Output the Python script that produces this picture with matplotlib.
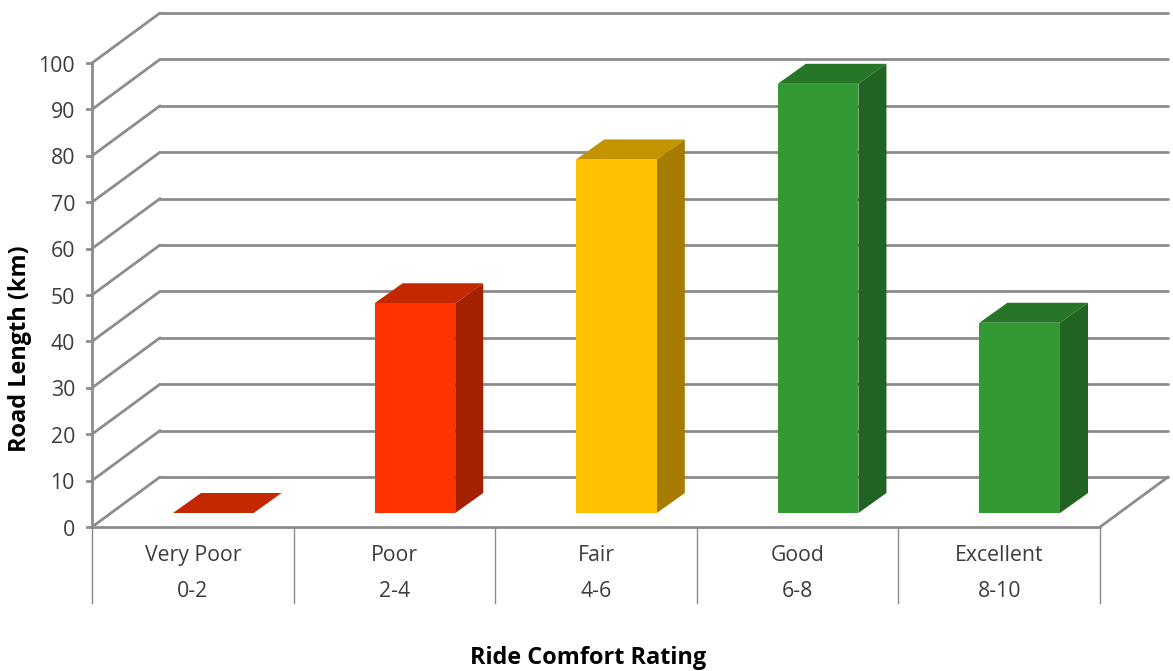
import matplotlib
matplotlib.use("Agg")
import matplotlib.pyplot as plt
from matplotlib.patches import Polygon
from matplotlib.transforms import Affine2D, IdentityTransform

categories = ["Very Poor", "Poor", "Fair", "Good", "Excellent"]
ranges = ["0-2", "2-4", "4-6", "6-8", "8-10"]
values = [0, 45.2, 76.2, 92.5, 41]
front_colors = ["#FF3300", "#FF3300", "#FFC000", "#339933", "#339933"]
side_colors = ["#A32100", "#A32100", "#A67C00", "#216321", "#216321"]
top_colors = ["#C42800", "#C42800", "#C49300", "#277527", "#277527"]
y_ticks = list(range(0, 101, 10))

W, H = 1173, 671
plt.rcParams["font.family"] = ["Open Sans", "DejaVu Sans"]
fig = plt.figure(figsize=(W / 100, H / 100), dpi=100)
ax = fig.add_axes([92 / W, 1 - 527 / H, (1100 - 92) / W, (527 - 63) / H])
ax.set_xlim(0, 5)
ax.set_ylim(0, 100)
ax.axis("off")
PX = IdentityTransform()
TXT = "#3C3C3C"


def shift(dx, dy):
    return ax.transData + Affine2D().translate(dx, dy)


GRID = "#8C8C8C"
DX, DY = 68, 50
kw = dict(color=GRID, lw=2, solid_capstyle="round", clip_on=False, zorder=1)
for v in y_ticks:
    x0, y0 = ax.transData.transform((0, v))
    ax.plot([0, 5], [v, v], transform=shift(DX, DY), **kw)
    ax.plot([x0, x0 + DX], [y0, y0 + DY], transform=PX, **kw)
    ax.plot([x0 - 5, x0], [y0, y0], transform=PX, color=GRID, lw=2, clip_on=False)
    ax.text(x0 - 17, y0 - 3, str(v), transform=PX, ha="right", va="center",
            fontsize=15.3, color=TXT)

# front edges of the floor, left axis, right floor edge
ax.plot([0, 5], [0, 0], **kw)
ax.plot([0, 0], [0, 100], **kw)
x1, y1 = ax.transData.transform((5, 0))
ax.plot([x1, x1 + DX], [y1, y1 + DY], transform=PX, **kw)

# category separators
for i in range(6):
    xp, yp = ax.transData.transform((i, 0))
    ax.plot([xp, xp], [yp, yp - 76], transform=PX, color=GRID, lw=1, clip_on=False)

for i, (c, r) in enumerate(zip(categories, ranges)):
    xp, yp = ax.transData.transform((i + 0.5, 0))
    ax.text(xp, yp - 28.5, c, transform=PX, ha="center", va="center",
            fontsize=15.3, color=TXT)
    ax.text(xp, yp - 64.5, r, transform=PX, ha="center", va="center",
            fontsize=15.3, color=TXT)

# bars: front face through ax.bar, depth faces offset from it in pixels
BDX0, BDY0 = 20.5, 14
BDX, BDY = 28, 20
BW = 0.40
pos = [i + 0.5 for i in range(len(values))]
for i, v in enumerate(values):
    l, r = pos[i] - BW / 2, pos[i] + BW / 2
    base = shift(BDX0, BDY0)
    deep = shift(BDX0 + BDX, BDY0 + BDY)
    p = lambda tr, x, y: tr.transform((x, y))
    ax.add_patch(Polygon([p(base, l, v), p(base, r, v), p(deep, r, v), p(deep, l, v)],
                         closed=True, transform=PX, fc=top_colors[i], ec="none",
                         zorder=3, clip_on=False))
    if v > 0:
        ax.add_patch(Polygon([p(base, r, 0), p(base, r, v), p(deep, r, v), p(deep, r, 0)],
                             closed=True, transform=PX, fc=side_colors[i], ec="none",
                             zorder=3, clip_on=False))
ax.bar(pos, values, width=BW, color=front_colors, transform=shift(BDX0, BDY0),
       zorder=4, clip_on=False, linewidth=0)

fig.text(20.5 / W, 1 - 349 / H, "Road Length (km)", rotation=90, ha="center", va="center",
         fontsize=16.9, fontweight="bold", color="black")
fig.text(588 / W, 1 - 658.5 / H, "Ride Comfort Rating", ha="center", va="center",
         fontsize=16.9, fontweight="bold", color="black")

fig.savefig("out.png", dpi=100, facecolor="white")
